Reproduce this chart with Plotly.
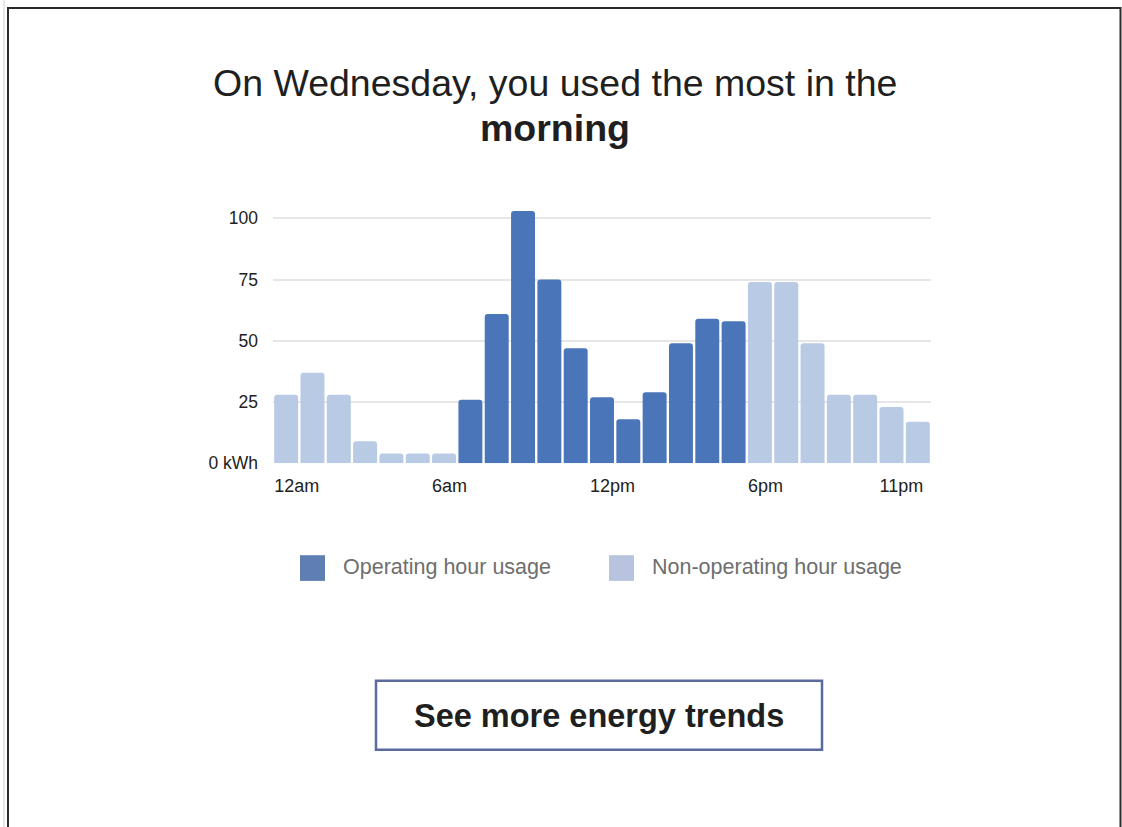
import plotly.graph_objects as go

# Hourly energy use for the day (kWh), midnight through midnight
hour_index = list(range(25))
usage_kwh = [28, 37, 28, 9, 4, 4, 4, 26, 61, 103, 75, 47, 27, 18, 29, 49, 59, 58,
             74, 74, 49, 28, 28, 23, 17]
operating = [False] * 7 + [True] * 11 + [False] * 7

tick_hours = [0, 6, 12, 18, 23]
tick_labels = ["12am", "6am", "12pm", "6pm", "11pm"]
y_ticks = [0, 25, 50, 75, 100]
y_tick_labels = ["0 kWh", "25", "50", "75", "100"]

series_names = ["Operating hour usage", "Non-operating hour usage"]
bar_colors = ["#4a76b9", "#b8cae4"]
legend_colors = ["#5f7fb3", "#b8c4df"]

W, H = 1122, 827
FONT = "Liberation Sans, Arial, Helvetica, sans-serif"
BARGAP = 0.09


def px(x):
    return x / W


def py(y):
    return 1 - y / H


fig = go.Figure()
for flag, name, color in zip([True, False], series_names, bar_colors):
    xs = [h for h, op in zip(hour_index, operating) if op == flag]
    ys = [v for v, op in zip(usage_kwh, operating) if op == flag]
    fig.add_trace(go.Bar(
        x=xs, y=ys, name=name, marker=dict(color=color, cornerradius=3, line=dict(width=0)),
        showlegend=False, hoverinfo="x+y",
    ))

fig.update_layout(
    width=W, height=H,
    margin=dict(l=0, r=0, t=0, b=0),
    paper_bgcolor="white", plot_bgcolor="white",
    barmode="overlay", bargap=BARGAP,
    font=dict(family=FONT, color="#222222"),
    xaxis=dict(
        domain=[px(273), px(931)], range=[-0.5, 24.5],
        tickmode="array",
        tickvals=[h - 0.5 + BARGAP / 2 for h in tick_hours],
        ticktext=tick_labels,
        ticklabelposition="outside right",
        showgrid=False, zeroline=False, showline=False, ticks="",
        tickfont=dict(size=18, color="#222222"),
        ticklabelstandoff=10,
    ),
    yaxis=dict(
        domain=[py(469), py(209)], range=[0, (469 - 209) / 2.48],
        tickmode="array", tickvals=y_ticks, ticktext=y_tick_labels,
        showgrid=True, gridcolor="#e6e6e6", gridwidth=1.5,
        zeroline=False, showline=False, ticks="",
        tickfont=dict(size=17.5, color="#222222"),
        ticklabelstandoff=14,
    ),
)

annotations = [
    dict(text="On Wednesday, you used the most in the", x=px(555), y=py(84),
         font=dict(size=37.5, color="#1f1f1f")),
    dict(text="<b>morning</b>", x=px(555), y=py(130),
         font=dict(size=37.5, color="#1f1f1f")),
    dict(text="<b>See more energy trends</b>", x=px(599), y=py(725),
         font=dict(size=32.5, color="#1f1f1f")),
]
for a in annotations:
    a.update(xref="paper", yref="paper", xanchor="center", yanchor="middle", showarrow=False)

shapes = []
legend_boxes = [(300, 341), (609, 650)]
for (sx, tx), name, color in zip(legend_boxes, series_names, legend_colors):
    shapes.append(dict(type="rect", xref="paper", yref="paper",
                       x0=px(sx), x1=px(sx + 25), y0=py(562), y1=py(588),
                       fillcolor=color, line=dict(width=0)))
    annotations.append(dict(text=name, x=px(tx), y=py(574), xref="paper", yref="paper",
                            xanchor="left", yanchor="middle", showarrow=False,
                            font=dict(size=21.5, color="#6e6e6e")))

# Call-to-action button outline
shapes.append(dict(type="rect", xref="paper", yref="paper",
                   x0=px(376), x1=px(822), y0=py(689), y1=py(759),
                   fillcolor="rgba(0,0,0,0)", line=dict(color="#5b6a9e", width=2.5)))

# Card frame
shapes.append(dict(type="line", xref="paper", yref="paper", x0=px(4), x1=px(4),
                   y0=py(0), y1=py(H + 20), line=dict(color="#d0d0d0", width=1)))
shapes.append(dict(type="line", xref="paper", yref="paper", x0=px(8), x1=px(8),
                   y0=py(7), y1=py(H + 20), line=dict(color="#2b2b2b", width=2)))
shapes.append(dict(type="line", xref="paper", yref="paper", x0=px(7), x1=px(1121),
                   y0=py(8), y1=py(8), line=dict(color="#2b2b2b", width=2)))
shapes.append(dict(type="line", xref="paper", yref="paper", x0=px(1120.5), x1=px(1120.5),
                   y0=py(7), y1=py(H + 20), line=dict(color="#2b2b2b", width=2)))

fig.update_layout(annotations=annotations, shapes=shapes)
fig.write_html("out.html")
